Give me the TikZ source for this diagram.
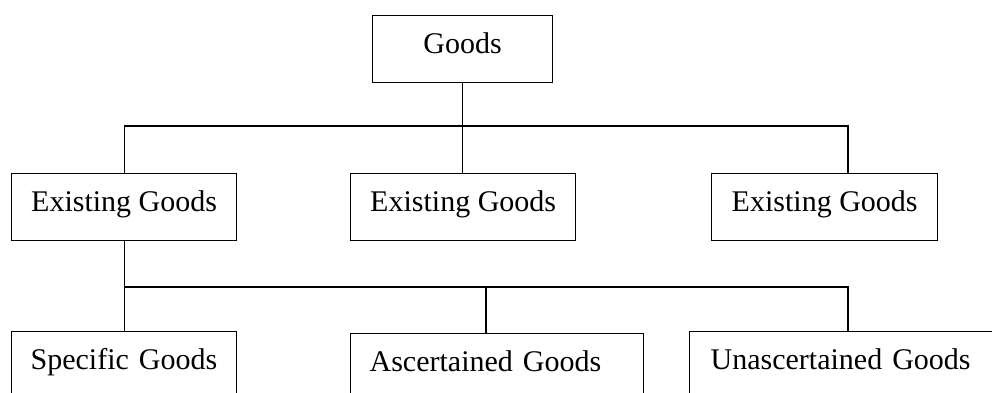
\documentclass[tikz,border=0pt]{standalone}
\usepackage{fontspec}
\setmainfont{Liberation Serif}
\begin{document}
\begin{tikzpicture}[
  x=1pt, y=-1pt,
  line width=1.3pt,
  every node/.style={font=\fontsize{30}{36}\selectfont},
  box/.style={draw, rectangle, anchor=north west, inner xsep=0pt, inner ysep=18pt,
    text height=20pt, text depth=11pt, align=center},
  leaf/.style={box, inner xsep=19pt, text depth=60pt, align=left}
]
\useasboundingbox (0,0) rectangle (992,392);
\clip (0,0) rectangle (992,392);
\node[box, minimum width=180pt] (goods) at (372,15) {Goods};
\node[box, minimum width=225pt] (ex1) at (11,173) {Existing Goods};
\node[box, minimum width=225pt] (ex2) at (350,173) {Existing Goods};
\node[box, minimum width=226pt] (ex3) at (711,173) {Existing Goods};
\node[leaf, text width=187pt] (spec) at (11,331) {Specific Goods};
\node[leaf, text width=255pt] (asc) at (350,333) {Ascertained Goods};
\node[leaf, inner xsep=21pt, text width=309pt] (unasc) at (689,331) {Unascertained Goods};
\coordinate (j1l) at (124,126);
\coordinate (j1r) at (848,126);
\coordinate (j2l) at (124,287);
\coordinate (j2m) at (486,287);
\coordinate (j2r) at (848,287);
\draw (goods.south) -- (goods.south |- ex2.north);
\draw (ex1.north) |- (j1l) -- (j1r) -- (j1r |- ex3.north);
\draw (ex1.south) -- (ex1.south |- spec.north);
\draw (j2l) -- (j2r) -- (j2r |- unasc.north);
\draw (j2m) -- (j2m |- asc.north);
\end{tikzpicture}
\end{document}
